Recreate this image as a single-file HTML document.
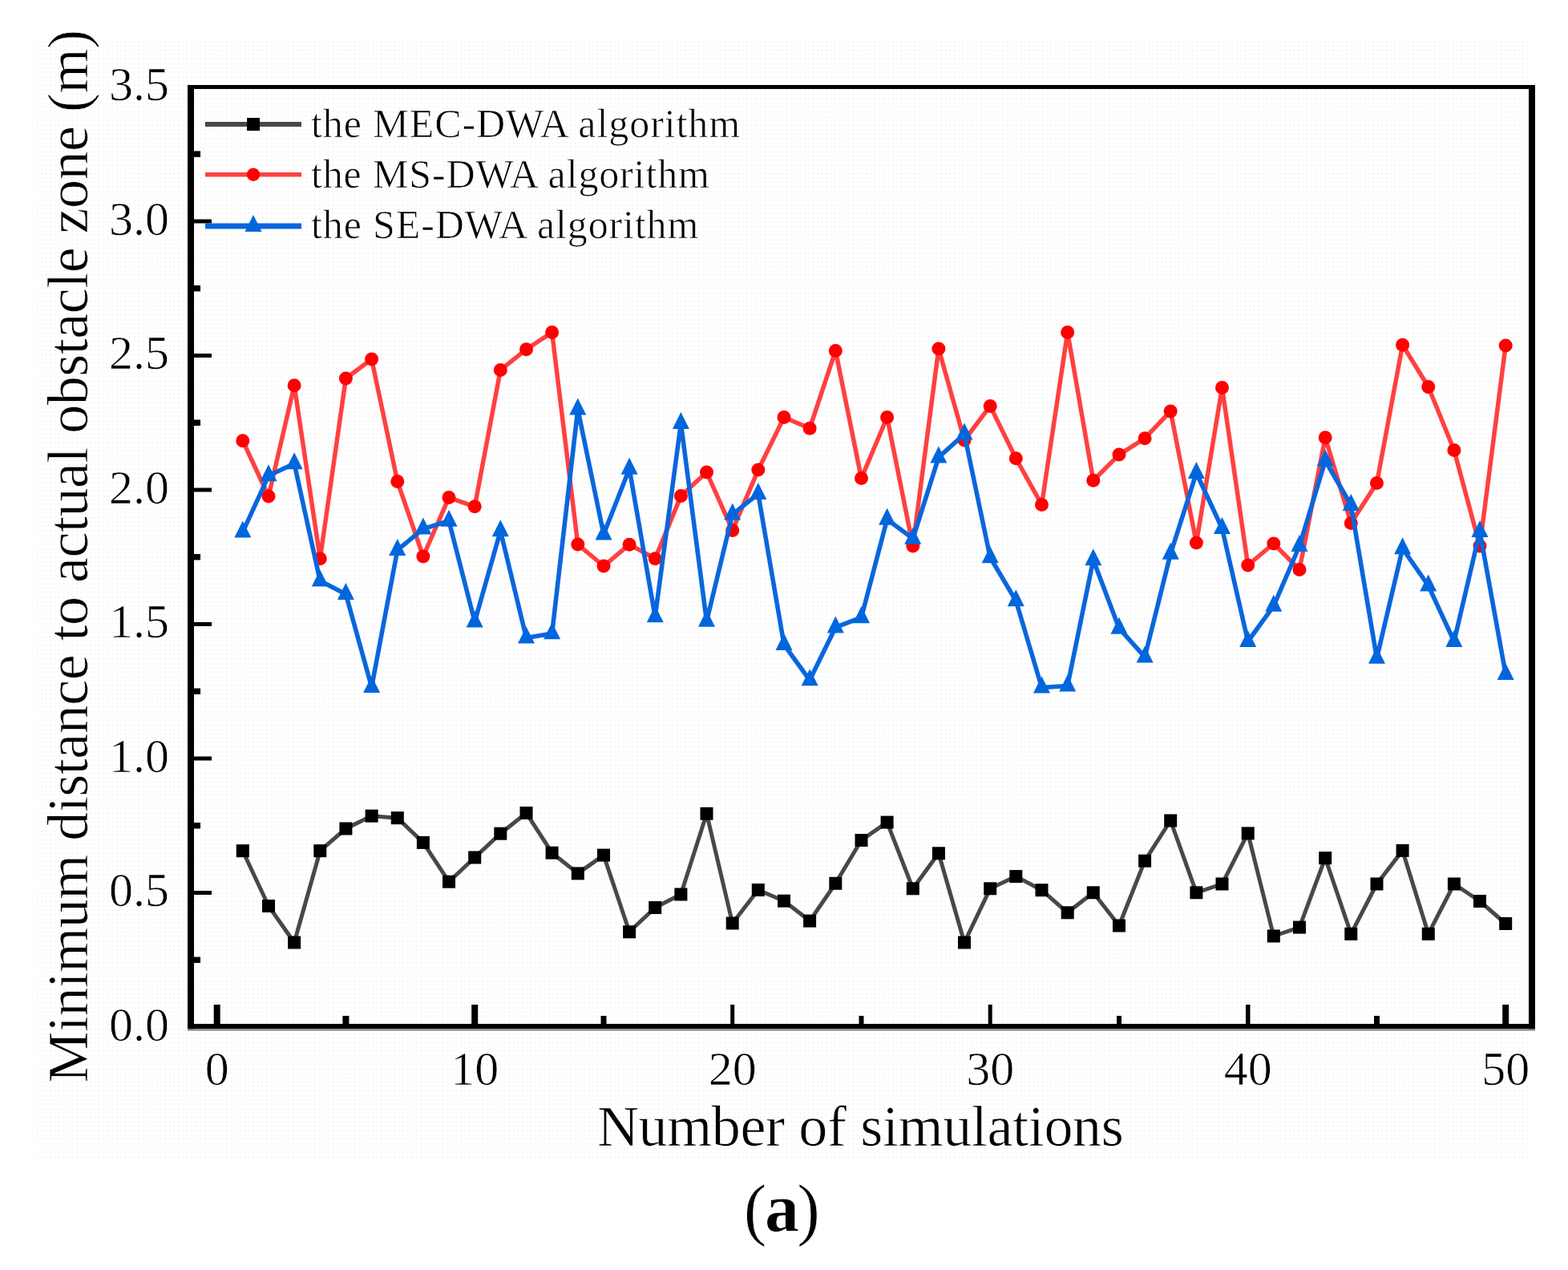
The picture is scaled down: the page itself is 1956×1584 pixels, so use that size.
<!DOCTYPE html>
<html><head><meta charset="utf-8"><title>chart</title>
<style>html,body{margin:0;padding:0;background:#fff;}svg{display:block;}text{stroke:#fff;stroke-width:0.7px;}</style>
</head><body>
<svg width="1956" height="1584" viewBox="0 0 1956 1584">
<rect x="0" y="0" width="1956" height="1584" fill="#fff"/>
<defs><pattern id="dots" x="46" y="51" width="5.5" height="5.5" patternUnits="userSpaceOnUse"><rect width="1.3" height="1.3" fill="#e9e9e9"/></pattern></defs>
<rect x="46" y="51" width="1861" height="1397" fill="url(#dots)"/>
<polyline points="302.8,1061.2 335.0,1130.0 367.1,1175.5 399.3,1061.2 431.4,1033.5 463.6,1017.7 495.8,1020.2 527.9,1050.9 560.0,1099.7 592.2,1069.5 624.3,1039.7 656.5,1014.0 688.6,1063.7 720.8,1089.4 753.0,1066.6 785.1,1162.3 817.2,1132.0 849.4,1115.5 881.5,1014.8 913.7,1151.5 945.8,1110.0 978.0,1123.7 1010.1,1148.6 1042.3,1101.8 1074.5,1048.0 1106.6,1025.6 1138.8,1108.3 1170.9,1064.3 1203.0,1175.5 1235.2,1108.3 1267.3,1093.1 1299.5,1110.2 1331.7,1138.3 1363.8,1113.3 1396.0,1154.5 1428.1,1073.7 1460.2,1023.5 1492.4,1113.3 1524.5,1102.5 1556.7,1039.4 1588.8,1167.5 1621.0,1156.6 1653.2,1070.2 1685.3,1164.8 1717.5,1102.5 1749.6,1060.9 1781.8,1164.8 1813.9,1102.5 1846.0,1124.0 1878.2,1152.0" fill="none" stroke="#484848" stroke-width="5" stroke-linejoin="round"/>
<g fill="#000"><rect x="294.8" y="1053.2" width="16" height="16"/><rect x="327.0" y="1122.0" width="16" height="16"/><rect x="359.1" y="1167.5" width="16" height="16"/><rect x="391.3" y="1053.2" width="16" height="16"/><rect x="423.4" y="1025.5" width="16" height="16"/><rect x="455.6" y="1009.7" width="16" height="16"/><rect x="487.8" y="1012.2" width="16" height="16"/><rect x="519.9" y="1042.9" width="16" height="16"/><rect x="552.0" y="1091.7" width="16" height="16"/><rect x="584.2" y="1061.5" width="16" height="16"/><rect x="616.3" y="1031.7" width="16" height="16"/><rect x="648.5" y="1006.0" width="16" height="16"/><rect x="680.6" y="1055.7" width="16" height="16"/><rect x="712.8" y="1081.4" width="16" height="16"/><rect x="745.0" y="1058.6" width="16" height="16"/><rect x="777.1" y="1154.3" width="16" height="16"/><rect x="809.2" y="1124.0" width="16" height="16"/><rect x="841.4" y="1107.5" width="16" height="16"/><rect x="873.5" y="1006.8" width="16" height="16"/><rect x="905.7" y="1143.5" width="16" height="16"/><rect x="937.8" y="1102.0" width="16" height="16"/><rect x="970.0" y="1115.7" width="16" height="16"/><rect x="1002.1" y="1140.6" width="16" height="16"/><rect x="1034.3" y="1093.8" width="16" height="16"/><rect x="1066.5" y="1040.0" width="16" height="16"/><rect x="1098.6" y="1017.6" width="16" height="16"/><rect x="1130.8" y="1100.3" width="16" height="16"/><rect x="1162.9" y="1056.3" width="16" height="16"/><rect x="1195.0" y="1167.5" width="16" height="16"/><rect x="1227.2" y="1100.3" width="16" height="16"/><rect x="1259.3" y="1085.1" width="16" height="16"/><rect x="1291.5" y="1102.2" width="16" height="16"/><rect x="1323.7" y="1130.3" width="16" height="16"/><rect x="1355.8" y="1105.3" width="16" height="16"/><rect x="1388.0" y="1146.5" width="16" height="16"/><rect x="1420.1" y="1065.7" width="16" height="16"/><rect x="1452.2" y="1015.5" width="16" height="16"/><rect x="1484.4" y="1105.3" width="16" height="16"/><rect x="1516.5" y="1094.5" width="16" height="16"/><rect x="1548.7" y="1031.4" width="16" height="16"/><rect x="1580.8" y="1159.5" width="16" height="16"/><rect x="1613.0" y="1148.6" width="16" height="16"/><rect x="1645.2" y="1062.2" width="16" height="16"/><rect x="1677.3" y="1156.8" width="16" height="16"/><rect x="1709.5" y="1094.5" width="16" height="16"/><rect x="1741.6" y="1052.9" width="16" height="16"/><rect x="1773.8" y="1156.8" width="16" height="16"/><rect x="1805.9" y="1094.5" width="16" height="16"/><rect x="1838.0" y="1116.0" width="16" height="16"/><rect x="1870.2" y="1144.0" width="16" height="16"/></g>
<polyline points="302.8,549.7 335.0,619.0 367.1,480.8 399.3,696.8 431.4,472.0 463.6,448.0 495.8,600.6 527.9,694.0 560.0,620.6 592.2,631.8 624.3,461.4 656.5,435.8 688.6,414.5 720.8,679.0 753.0,706.0 785.1,679.2 817.2,696.7 849.4,618.6 881.5,589.0 913.7,661.4 945.8,586.1 978.0,520.5 1010.1,534.2 1042.3,437.4 1074.5,596.6 1106.6,520.5 1138.8,681.0 1170.9,435.1 1203.0,549.0 1235.2,506.4 1267.3,571.8 1299.5,629.4 1331.7,414.5 1363.8,599.2 1396.0,567.1 1428.1,546.7 1460.2,512.9 1492.4,677.0 1524.5,483.4 1556.7,705.0 1588.8,678.0 1621.0,710.5 1653.2,545.7 1685.3,652.5 1717.5,602.5 1749.6,430.2 1781.8,482.5 1813.9,561.5 1846.0,681.0 1878.2,430.9" fill="none" stroke="#ff4040" stroke-width="5.5" stroke-linejoin="round"/>
<g fill="#ff0000"><circle cx="302.8" cy="549.7" r="8.5"/><circle cx="335.0" cy="619.0" r="8.5"/><circle cx="367.1" cy="480.8" r="8.5"/><circle cx="399.3" cy="696.8" r="8.5"/><circle cx="431.4" cy="472.0" r="8.5"/><circle cx="463.6" cy="448.0" r="8.5"/><circle cx="495.8" cy="600.6" r="8.5"/><circle cx="527.9" cy="694.0" r="8.5"/><circle cx="560.0" cy="620.6" r="8.5"/><circle cx="592.2" cy="631.8" r="8.5"/><circle cx="624.3" cy="461.4" r="8.5"/><circle cx="656.5" cy="435.8" r="8.5"/><circle cx="688.6" cy="414.5" r="8.5"/><circle cx="720.8" cy="679.0" r="8.5"/><circle cx="753.0" cy="706.0" r="8.5"/><circle cx="785.1" cy="679.2" r="8.5"/><circle cx="817.2" cy="696.7" r="8.5"/><circle cx="849.4" cy="618.6" r="8.5"/><circle cx="881.5" cy="589.0" r="8.5"/><circle cx="913.7" cy="661.4" r="8.5"/><circle cx="945.8" cy="586.1" r="8.5"/><circle cx="978.0" cy="520.5" r="8.5"/><circle cx="1010.1" cy="534.2" r="8.5"/><circle cx="1042.3" cy="437.4" r="8.5"/><circle cx="1074.5" cy="596.6" r="8.5"/><circle cx="1106.6" cy="520.5" r="8.5"/><circle cx="1138.8" cy="681.0" r="8.5"/><circle cx="1170.9" cy="435.1" r="8.5"/><circle cx="1203.0" cy="549.0" r="8.5"/><circle cx="1235.2" cy="506.4" r="8.5"/><circle cx="1267.3" cy="571.8" r="8.5"/><circle cx="1299.5" cy="629.4" r="8.5"/><circle cx="1331.7" cy="414.5" r="8.5"/><circle cx="1363.8" cy="599.2" r="8.5"/><circle cx="1396.0" cy="567.1" r="8.5"/><circle cx="1428.1" cy="546.7" r="8.5"/><circle cx="1460.2" cy="512.9" r="8.5"/><circle cx="1492.4" cy="677.0" r="8.5"/><circle cx="1524.5" cy="483.4" r="8.5"/><circle cx="1556.7" cy="705.0" r="8.5"/><circle cx="1588.8" cy="678.0" r="8.5"/><circle cx="1621.0" cy="710.5" r="8.5"/><circle cx="1653.2" cy="545.7" r="8.5"/><circle cx="1685.3" cy="652.5" r="8.5"/><circle cx="1717.5" cy="602.5" r="8.5"/><circle cx="1749.6" cy="430.2" r="8.5"/><circle cx="1781.8" cy="482.5" r="8.5"/><circle cx="1813.9" cy="561.5" r="8.5"/><circle cx="1846.0" cy="681.0" r="8.5"/><circle cx="1878.2" cy="430.9" r="8.5"/></g>
<polyline points="302.8,663.6 335.0,593.3 367.1,578.2 399.3,724.6 431.4,741.0 463.6,856.9 495.8,685.9 527.9,659.6 560.0,649.8 592.2,775.5 624.3,662.2 656.5,795.5 688.6,790.3 720.8,510.6 753.0,666.5 785.1,584.8 817.2,769.2 849.4,528.0 881.5,774.8 913.7,641.6 945.8,616.0 978.0,804.0 1010.1,848.3 1042.3,782.4 1074.5,770.2 1106.6,647.8 1138.8,671.8 1170.9,570.4 1203.0,541.5 1235.2,695.3 1267.3,749.2 1299.5,857.5 1331.7,855.5 1363.8,698.3 1396.0,783.7 1428.1,819.4 1460.2,690.8 1492.4,590.0 1524.5,659.0 1556.7,800.0 1588.8,755.8 1621.0,681.0 1653.2,574.6 1685.3,630.0 1717.5,820.8 1749.6,684.2 1781.8,730.5 1813.9,800.0 1846.0,662.9 1878.2,841.1" fill="none" stroke="#0a66dd" stroke-width="5.6" stroke-linejoin="round"/>
<g fill="#0066dd"><path d="M302.8 649.6L313.3 670.6L292.3 670.6Z"/><path d="M335.0 579.3L345.5 600.3L324.5 600.3Z"/><path d="M367.1 564.2L377.6 585.2L356.6 585.2Z"/><path d="M399.3 710.6L409.8 731.6L388.8 731.6Z"/><path d="M431.4 727.0L441.9 748.0L420.9 748.0Z"/><path d="M463.6 842.9L474.1 863.9L453.1 863.9Z"/><path d="M495.8 671.9L506.2 692.9L485.2 692.9Z"/><path d="M527.9 645.6L538.4 666.6L517.4 666.6Z"/><path d="M560.0 635.8L570.5 656.8L549.5 656.8Z"/><path d="M592.2 761.5L602.7 782.5L581.7 782.5Z"/><path d="M624.3 648.2L634.8 669.2L613.8 669.2Z"/><path d="M656.5 781.5L667.0 802.5L646.0 802.5Z"/><path d="M688.6 776.3L699.1 797.3L678.1 797.3Z"/><path d="M720.8 496.6L731.3 517.6L710.3 517.6Z"/><path d="M753.0 652.5L763.5 673.5L742.5 673.5Z"/><path d="M785.1 570.8L795.6 591.8L774.6 591.8Z"/><path d="M817.2 755.2L827.8 776.2L806.8 776.2Z"/><path d="M849.4 514.0L859.9 535.0L838.9 535.0Z"/><path d="M881.5 760.8L892.0 781.8L871.0 781.8Z"/><path d="M913.7 627.6L924.2 648.6L903.2 648.6Z"/><path d="M945.8 602.0L956.3 623.0L935.3 623.0Z"/><path d="M978.0 790.0L988.5 811.0L967.5 811.0Z"/><path d="M1010.1 834.3L1020.6 855.3L999.6 855.3Z"/><path d="M1042.3 768.4L1052.8 789.4L1031.8 789.4Z"/><path d="M1074.5 756.2L1085.0 777.2L1064.0 777.2Z"/><path d="M1106.6 633.8L1117.1 654.8L1096.1 654.8Z"/><path d="M1138.8 657.8L1149.2 678.8L1128.2 678.8Z"/><path d="M1170.9 556.4L1181.4 577.4L1160.4 577.4Z"/><path d="M1203.0 527.5L1213.5 548.5L1192.5 548.5Z"/><path d="M1235.2 681.3L1245.7 702.3L1224.7 702.3Z"/><path d="M1267.3 735.2L1277.8 756.2L1256.8 756.2Z"/><path d="M1299.5 843.5L1310.0 864.5L1289.0 864.5Z"/><path d="M1331.7 841.5L1342.2 862.5L1321.2 862.5Z"/><path d="M1363.8 684.3L1374.3 705.3L1353.3 705.3Z"/><path d="M1396.0 769.7L1406.5 790.7L1385.5 790.7Z"/><path d="M1428.1 805.4L1438.6 826.4L1417.6 826.4Z"/><path d="M1460.2 676.8L1470.8 697.8L1449.8 697.8Z"/><path d="M1492.4 576.0L1502.9 597.0L1481.9 597.0Z"/><path d="M1524.5 645.0L1535.0 666.0L1514.0 666.0Z"/><path d="M1556.7 786.0L1567.2 807.0L1546.2 807.0Z"/><path d="M1588.8 741.8L1599.3 762.8L1578.3 762.8Z"/><path d="M1621.0 667.0L1631.5 688.0L1610.5 688.0Z"/><path d="M1653.2 560.6L1663.7 581.6L1642.7 581.6Z"/><path d="M1685.3 616.0L1695.8 637.0L1674.8 637.0Z"/><path d="M1717.5 806.8L1728.0 827.8L1707.0 827.8Z"/><path d="M1749.6 670.2L1760.1 691.2L1739.1 691.2Z"/><path d="M1781.8 716.5L1792.2 737.5L1771.2 737.5Z"/><path d="M1813.9 786.0L1824.4 807.0L1803.4 807.0Z"/><path d="M1846.0 648.9L1856.5 669.9L1835.5 669.9Z"/><path d="M1878.2 827.1L1888.7 848.1L1867.7 848.1Z"/></g>
<g fill="#000">
<rect x="234" y="106" width="8" height="1179"/>
<rect x="1907" y="106" width="8" height="1179"/>
<rect x="234" y="106" width="1681" height="5"/>
<rect x="234" y="1277" width="1681" height="6.2"/>
<rect x="234" y="1283.2" width="1681" height="2.4" fill="#7f8c8c"/>
<rect x="266.7" y="1253" width="8" height="24"/>
<rect x="427.4" y="1267" width="8" height="10"/>
<rect x="588.2" y="1253" width="8" height="24"/>
<rect x="749.5" y="1267" width="7" height="10"/>
<rect x="911.2" y="1253" width="5" height="24"/>
<rect x="1071.5" y="1267" width="6" height="10"/>
<rect x="1232.7" y="1253" width="5" height="24"/>
<rect x="1393.0" y="1267" width="6" height="10"/>
<rect x="1554.0" y="1253" width="5.5" height="24"/>
<rect x="1714.0" y="1267" width="7" height="10"/>
<rect x="1874.2" y="1253" width="8" height="24"/>
<rect x="242" y="1193.5" width="8" height="7.5"/>
<rect x="242" y="1111.0" width="22" height="5"/>
<rect x="242" y="1026.0" width="8" height="7.5"/>
<rect x="242" y="943.5" width="22" height="5"/>
<rect x="242" y="858.5" width="8" height="7.5"/>
<rect x="242" y="776.0" width="22" height="5"/>
<rect x="242" y="691.0" width="8" height="7.5"/>
<rect x="242" y="608.5" width="22" height="5"/>
<rect x="242" y="523.5" width="8" height="7.5"/>
<rect x="242" y="441.0" width="22" height="5"/>
<rect x="242" y="355.9" width="8" height="7.5"/>
<rect x="242" y="273.5" width="22" height="5"/>
<rect x="242" y="188.4" width="8" height="7.5"/>
</g>
<g font-family="Liberation Serif, serif" font-size="60" fill="#000">
<text x="211" y="1297.5" text-anchor="end">0.0</text>
<text x="211" y="1130.0" text-anchor="end">0.5</text>
<text x="211" y="962.5" text-anchor="end">1.0</text>
<text x="211" y="795.0" text-anchor="end">1.5</text>
<text x="211" y="627.5" text-anchor="end">2.0</text>
<text x="211" y="460.0" text-anchor="end">2.5</text>
<text x="211" y="292.5" text-anchor="end">3.0</text>
<text x="211" y="125.0" text-anchor="end">3.5</text>
<text x="270.7" y="1353" text-anchor="middle">0</text>
<text x="592.2" y="1353" text-anchor="middle">10</text>
<text x="913.7" y="1353" text-anchor="middle">20</text>
<text x="1235.2" y="1353" text-anchor="middle">30</text>
<text x="1556.7" y="1353" text-anchor="middle">40</text>
<text x="1878.2" y="1353" text-anchor="middle">50</text>
</g>
<rect x="256" y="152" width="120" height="6" fill="#484848"/>
<rect x="308" y="147" width="16" height="16" fill="#000"/>
<rect x="256" y="215" width="120" height="5.5" fill="#ff4040"/>
<circle cx="316" cy="217.8" r="8.2" fill="#ff0000"/>
<rect x="256" y="278.5" width="120" height="7" fill="#0a66dd"/>
<path fill="#0066dd" d="M316.0 268.0L326.5 289.0L305.5 289.0Z"/>
<g font-family="Liberation Serif, serif" font-size="50" fill="#000">
<text x="388" y="171" textLength="535.2" lengthAdjust="spacing">the MEC-DWA algorithm</text>
<text x="388" y="233.6" textLength="496.9" lengthAdjust="spacing">the MS-DWA algorithm</text>
<text x="388" y="297" textLength="483.4" lengthAdjust="spacing">the SE-DWA algorithm</text>
</g>
<text x="744.9" y="1428.8" textLength="656.8" lengthAdjust="spacing" font-family="Liberation Serif, serif" font-size="72" fill="#000">Number of simulations</text>
<text transform="translate(108.5 1350.6) rotate(-90)" x="0" y="0" textLength="1313.5" lengthAdjust="spacing" font-family="Liberation Serif, serif" font-size="72" fill="#000">Minimum distance to actual obstacle zone (m)</text>
<g font-family="Liberation Serif, serif" font-size="86" fill="#000"><text x="927.8" y="1537">(</text><text x="954" y="1535.7" font-weight="bold">a</text><text x="994.2" y="1537">)</text></g>
</svg>
</body></html>
